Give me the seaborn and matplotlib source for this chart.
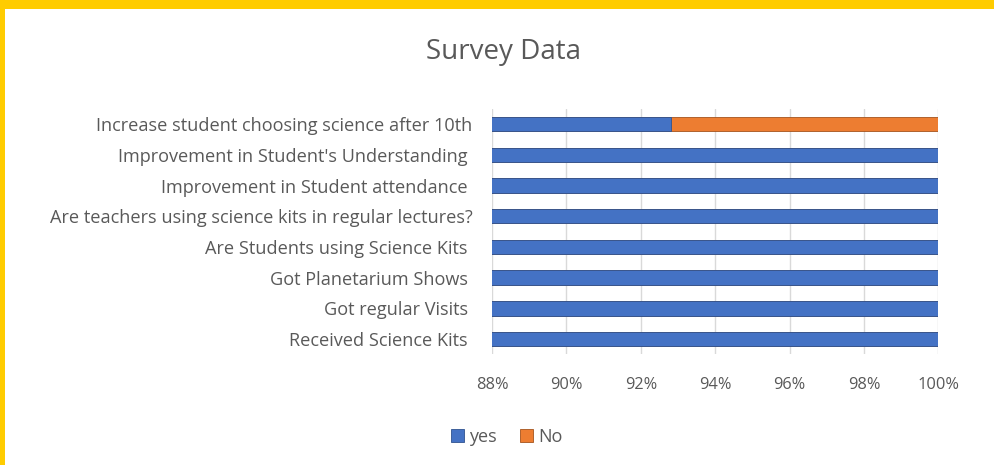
import pandas as pd
import matplotlib.pyplot as plt
import seaborn as sns
from matplotlib.patches import Rectangle
from matplotlib.ticker import FuncFormatter

# DATA
questions = [
    "Increase student choosing science after 10th",
    "Improvement in Student's Understanding ",
    "Improvement in Student attendance ",
    "Are teachers using science kits in regular lectures?",
    "Are Students using Science Kits ",
    "Got Planetarium Shows ",
    "Got regular Visits ",
    "Received Science Kits ",
]
yes_pct = [92.8, 100, 100, 100, 100, 100, 100, 100]
no_pct = [7.2, 0, 0, 0, 0, 0, 0, 0]

df = pd.DataFrame({"question": questions, "yes": yes_pct, "no": no_pct})
df["total"] = df["yes"] + df["no"]

# STYLE
sns.set_style("white")
plt.rcParams["font.family"] = ["Open Sans", "DejaVu Sans"]
grey = "#595959"

fig = plt.figure(figsize=(9.94, 4.65), dpi=100)
ax = fig.add_axes([0.495, 0.238, 0.449, 0.528])

# stacked bars: orange total underneath, blue "yes" on top
sns.barplot(data=df, x="total", y="question", color="#ED7D31", width=0.47,
            ax=ax, label="No", saturation=1, edgecolor="#A4531C", linewidth=0.6)
sns.barplot(data=df, x="yes", y="question", color="#4472C4", width=0.47,
            ax=ax, label="yes", saturation=1, edgecolor="#2F528F", linewidth=0.6)

ax.set_xlim(88, 100)
ax.set_xticks(range(88, 101, 2))
ax.xaxis.set_major_formatter(FuncFormatter(lambda v, p: f"{v:.0f}%"))
ax.grid(axis="x", color="#D9D9D9", linewidth=1)
ax.set_axisbelow(True)
for s in ax.spines.values():
    s.set_visible(False)
ax.set_xlabel("")
ax.set_ylabel("")
ax.tick_params(axis="y", length=0, pad=14, labelsize=13.1, labelcolor=grey)
ax.tick_params(axis="x", length=0, pad=16, labelsize=11.8, labelcolor=grey)

fig.text(0.507, 0.888, "Survey Data", ha="center", va="center",
         fontsize=20, color=grey)

handles, labels = ax.get_legend_handles_labels()
order = [labels.index("yes"), labels.index("No")]
ax.legend([handles[i] for i in order], [labels[i] for i in order],
          loc="center", bbox_to_anchor=(0.51, 0.06), bbox_transform=fig.transFigure,
          ncol=2, frameon=False, handlelength=0.7, handleheight=0.7,
          handletextpad=0.3, columnspacing=1.3, fontsize=13, labelcolor=grey)

# yellow frame
fig.patches.append(Rectangle((0, 1 - 9 / 465), 1, 9 / 465, transform=fig.transFigure,
                             facecolor="#FFCC00", edgecolor="none", zorder=0))
fig.patches.append(Rectangle((0, 0), 5 / 994, 1, transform=fig.transFigure,
                             facecolor="#FFCC00", edgecolor="none", zorder=0))

fig.savefig("out.png", dpi=100, facecolor="white")
